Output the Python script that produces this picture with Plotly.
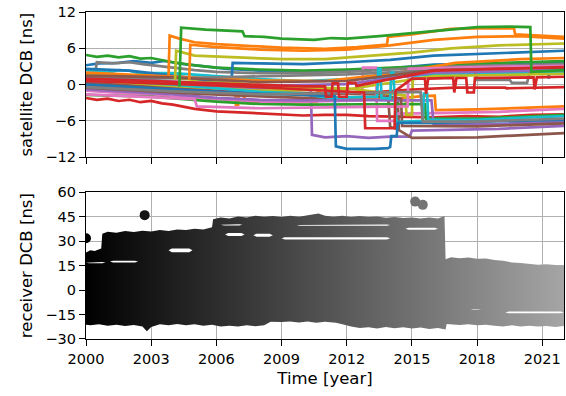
import plotly.graph_objects as go

# ---------------- satellite DCB (top panel) ----------------
# tab10 colours
BLUE, ORANGE, GREEN, RED, PURPLE = "#1f77b4", "#ff7f0e", "#2ca02c", "#d62728", "#9467bd"
BROWN, PINK, GRAY, OLIVE, CYAN = "#8c564b", "#e377c2", "#7f7f7f", "#bcbd22", "#17becf"

green_b_t = [2000, 2000.5, 2001, 2001.5, 2002, 2002.5, 2003, 2003.5, 2004, 2005, 2006, 2008, 2010, 2012, 2014, 2016, 2018, 2020, 2022]
green_b_v = [4.9, 4.6, 4.8, 4.5, 4.7, 4.3, 4.4, 4.0, 3.7, 3.2, 2.8, 2.5, 2.3, 2.5, 2.8, 3.2, 3.5, 3.7, 3.9]

blue_b_t = [2000, 2000.6, 2001.5, 2002.2, 2003, 2003.6, 2004.5, 2005.5, 2006.5, 2008, 2010, 2012, 2014, 2016, 2018, 2020, 2021.25, 2021.3, 2021.35, 2022]
blue_b_v = [3.2, 3.5, 3.6, 3.9, 3.6, 3.9, 3.4, 3.0, 2.6, 2.3, 2.1, 2.3, 2.7, 3.3, 3.5, 3.6, 3.6, 1.0, 3.6, 3.7]

red_a_t = [2000, 2000.5, 2001, 2001.5, 2002, 2002.5, 2003, 2003.5, 2004, 2004.5, 2005, 2006, 2007, 2008, 2009, 2010, 2011, 2012, 2013, 2014, 2016, 2017.5, 2019, 2020.5, 2022]
red_a_v = [-2.2, -2.5, -2.3, -2.7, -2.5, -2.9, -2.7, -3.1, -3.3, -3.7, -4.0, -4.4, -4.6, -4.8, -5.0, -5.1, -5.0, -5.0, -5.2, -5.3, -5.4, -5.2, -5.3, -5.0, -4.9]

purple_a_t = [2000, 2003, 2006, 2008, 2010.35, 2010.4, 2011, 2012, 2013, 2014, 2014.9, 2015.0, 2016, 2019, 2022]
purple_a_v = [0.5, 0.0, -0.5, -0.7, -0.9, -8.3, -8.7, -8.5, -8.8, -8.6, -8.6, -7.6, -7.5, -7.3, -6.8]

brown_a_t = [2000, 2005, 2010, 2013.9, 2014.0, 2014.3, 2014.35, 2014.4, 2015, 2018, 2022]
brown_a_v = [0.2, -0.6, -1.4, -1.6, -7.0, -7.3, -2.5, -7.5, -8.8, -8.7, -8.0]

pink_a_t = [2000, 2004, 2008, 2010, 2012.7, 2012.75, 2013.35, 2013.4, 2014.2, 2014.3, 2016, 2019, 2022]
pink_a_v = [-1.0, -2.0, -2.8, -2.8, -2.6, 2.8, 2.8, -6.0, -6.0, -4.8, -4.7, -4.5, -4.0]

gray_a_t = [2000.45, 2000.5, 2001.2, 2002, 2002.6, 2003.2, 2004, 2005, 2006, 2008, 2010, 2012, 2014, 2016, 2018, 2020, 2022]
gray_a_v = [2.5, 3.7, 3.5, 3.7, 3.4, 3.1, 2.8, 2.4, 2.1, 1.9, 1.9, 2.1, 2.5, 2.9, 3.1, 3.3, 3.4]

olive_b_t = [2000, 2003, 2006, 2008, 2010, 2012, 2014.7, 2014.75, 2015.0, 2015.05, 2018, 2022]
olive_b_v = [1.8, 1.4, 0.5, -0.1, -0.5, -0.6, -1.8, -5.0, -5.0, 2.0, 2.6, 2.9]

cyan_a_t = [2000, 2000.5, 2001, 2001.5, 2002, 2002.5, 2003, 2004, 2006, 2008, 2010, 2012, 2014, 2016, 2018, 2020, 2022]
cyan_a_v = [2.4, 2.2, 2.0, 2.4, 2.3, 1.8, 1.9, 1.9, 1.4, 0.9, 0.6, 0.9, 1.2, 1.7, 1.8, 1.9, 2.1]

blue_a_t = [2000, 2002, 2004, 2005.5, 2006.7, 2006.75, 2008, 2010, 2012, 2014, 2016, 2018, 2020, 2022]
blue_a_v = [2.6, 2.3, 1.5, 0.8, 0.8, 3.6, 3.5, 3.4, 3.7, 4.1, 4.8, 5.1, 5.3, 5.6]

orange_c_t = [2000, 2002, 2004, 2006, 2006.85, 2006.9, 2007.0, 2007.05, 2007.4, 2009, 2010.6, 2010.65, 2010.75, 2010.8, 2012, 2014, 2015.5, 2016.05, 2016.1, 2018, 2022]
orange_c_v = [0.3, 0.3, 0.2, 0.0, -0.1, -3.3, -3.3, -0.2, -3.0, -2.9, -2.9, -0.5, -0.5, -2.6, -2.5, -2.4, -1.9, -1.8, -4.2, -4.1, -3.6]

green_c_t = [2000, 2003, 2006, 2008, 2010, 2012, 2014, 2015.6, 2015.65, 2018, 2022]
green_c_v = [-1.7, -2.0, -2.8, -3.2, -3.3, -3.3, -3.2, -3.2, -5.6, -5.6, -5.0]

red_b_t = [2000, 2004, 2008, 2010, 2012, 2012.8, 2012.85, 2014.2, 2014.25, 2015.0, 2015.6, 2015.65, 2015.75, 2016.9, 2016.95, 2017.05, 2017.5, 2017.55, 2017.85, 2017.9, 2020.6, 2020.65, 2020.75, 2022]
red_b_v = [0.6, 0.1, -0.4, -0.8, -1.1, -1.3, -7.2, -7.2, -1.0, 1.0, 1.0, -1.5, 1.0, 1.1, -1.3, 1.1, 1.1, -1.3, -1.3, 1.1, 1.2, -0.8, 1.2, 1.3]

red_d_t = [2000, 2005, 2010, 2011.0, 2011.05, 2011.3, 2011.35, 2011.6, 2011.65, 2012.0, 2012.05, 2012.4, 2012.45, 2014, 2016, 2019, 2022]
red_d_v = [1.0, 0.3, -0.3, -0.3, -2.0, -2.0, 0.2, 0.2, -2.0, -2.0, 0.3, 0.3, -0.2, 0.9, 2.3, 2.6, 2.9]

purple_b_t = [2000, 2004, 2006, 2008, 2010, 2012, 2014, 2015.9, 2016, 2019, 2022]
purple_b_v = [-0.8, -1.6, -2.2, -2.5, -2.6, -2.5, -2.6, -2.6, -6.6, -6.5, -6.1]

brown_b_t = [2000, 2005, 2010, 2014, 2014.5, 2014.55, 2018, 2022]
brown_b_v = [-0.5, -1.5, -2.2, -2.0, -2.3, -6.8, -6.9, -6.4]

pink_b_t = [2000, 2003, 2005, 2005.1, 2008, 2012, 2014.8, 2014.85, 2018, 2022]
pink_b_v = [-1.6, -2.1, -2.4, -3.6, -3.9, -3.7, -3.6, 2.6, 2.9, 3.1]

gray_b_t = [2000, 2003, 2006, 2009, 2012, 2015, 2017.9, 2018.0, 2019.5, 2019.6, 2020.3, 2020.45, 2022]
gray_b_v = [1.2, 1.0, 1.2, 1.4, 1.7, 2.2, 2.4, 0.8, 0.8, 0.3, 0.3, 2.4, 2.7]

olive_a_t = [2004.1, 2004.15, 2005, 2007, 2009, 2011, 2013, 2015, 2016.8, 2019, 2022]
olive_a_v = [0.8, 5.6, 4.8, 4.5, 4.2, 4.2, 4.7, 5.3, 6.0, 6.5, 6.8]

cyan_b_t = [2000, 2004, 2008, 2010, 2010.8, 2011.3, 2012, 2013.4, 2013.45, 2013.55, 2013.6, 2014.0, 2014.05, 2014.15, 2014.2, 2014.3, 2015.5, 2015.55, 2015.7, 2015.75, 2018, 2022]
cyan_b_v = [1.0, 0.0, -1.2, -1.5, -2.0, -2.2, -2.1, -2.0, 2.6, 2.6, -2.2, -2.3, 2.0, 2.0, -2.0, -6.2, -6.0, -1.5, -1.5, -5.8, -5.8, -5.2]

green_a_t = [2004.3, 2004.38, 2005.5, 2006.4, 2007.2, 2007.3, 2008.2, 2009, 2010.5, 2011.3, 2012, 2013.5, 2015, 2016.8, 2018, 2019.5, 2020.45, 2020.5, 2021, 2022]
green_a_v = [-0.3, 9.4, 9.1, 9.0, 8.8, 8.0, 7.9, 7.6, 7.4, 7.7, 7.6, 8.0, 8.5, 9.2, 9.5, 9.6, 9.5, 2.1, 2.2, 2.4]

orange_a_t = [2003.8, 2003.85, 2004.3, 2005, 2006, 2007.5, 2009, 2011, 2012.5, 2013.85, 2013.9, 2015, 2016.8, 2018, 2019.7, 2019.75, 2021, 2022]
orange_a_v = [1.5, 8.1, 7.6, 7.0, 6.7, 6.4, 6.1, 5.9, 6.2, 6.6, 7.9, 8.3, 9.2, 9.3, 9.3, 8.3, 8.1, 7.9]

orange_b_t = [2004.75, 2004.8, 2006, 2008, 2010, 2012, 2014, 2016, 2018, 2020, 2022]
orange_b_v = [0.8, 6.6, 6.2, 5.8, 5.6, 5.8, 6.5, 7.4, 7.9, 8.0, 7.6]

red_c_t = [2000, 2005, 2009, 2011, 2013, 2015, 2016, 2017, 2019.3, 2019.35, 2022]
red_c_v = [-0.2, -0.9, -1.5, -1.6, -1.3, -0.8, -0.6, -0.5, -0.5, -0.6, -0.4]

blue_c_t = [2000, 2004, 2008, 2010, 2011.45, 2011.5, 2012, 2013.3, 2013.9, 2014.0, 2014.05, 2014.3, 2014.35, 2016, 2019, 2022]
blue_c_v = [0.0, -0.8, -1.5, -1.7, -1.9, -10.2, -10.6, -10.6, -10.5, -10.3, -8.5, -8.5, -6.3, -6.3, -6.1, -5.8]

brown_c_t = [2000, 2004, 2008, 2012, 2016, 2020, 2022]
brown_c_v = [1.5, 1.2, 0.4, 0.6, 2.4, 2.6, 2.8]

purple_c_t = [2000, 2004, 2008, 2012, 2016, 2020, 2022]
purple_c_v = [0.9, 0.5, -0.2, 0.1, 2.0, 2.2, 2.4]

olive_c_t = [2000, 2004, 2008, 2012, 2016, 2020, 2022]
olive_c_v = [0.8, -0.2, -1.0, -0.8, 1.4, 1.6, 1.8]

orange_d_t = [2000, 2004, 2008, 2011, 2014, 2017, 2020, 2022]
orange_d_v = [2.0, 1.4, 0.7, 0.6, 1.8, 3.6, 4.2, 4.4]

gray_c_t = [2000, 2004, 2008, 2010, 2013, 2015.4, 2015.5, 2018, 2022]
gray_c_v = [-0.4, -1.1, -1.6, -1.5, -1.3, -1.2, -6.1, -6.1, -5.6]

satellites = [
    (BLUE, blue_b_t, blue_b_v), (ORANGE, orange_c_t, orange_c_v), (GREEN, green_b_t, green_b_v),
    (RED, red_a_t, red_a_v), (PURPLE, purple_a_t, purple_a_v), (BROWN, brown_a_t, brown_a_v),
    (PINK, pink_a_t, pink_a_v), (GRAY, gray_a_t, gray_a_v), (OLIVE, olive_b_t, olive_b_v),
    (CYAN, cyan_a_t, cyan_a_v), (BLUE, blue_a_t, blue_a_v), (ORANGE, orange_d_t, orange_d_v),
    (GREEN, green_c_t, green_c_v), (RED, red_c_t, red_c_v), (PURPLE, purple_b_t, purple_b_v),
    (BROWN, brown_b_t, brown_b_v), (PINK, pink_b_t, pink_b_v), (GRAY, gray_b_t, gray_b_v),
    (OLIVE, olive_c_t, olive_c_v), (CYAN, cyan_b_t, cyan_b_v), (BLUE, blue_c_t, blue_c_v),
    (BROWN, brown_c_t, brown_c_v), (PURPLE, purple_c_t, purple_c_v), (GRAY, gray_c_t, gray_c_v),
    (RED, red_d_t, red_d_v), (RED, red_b_t, red_b_v), (OLIVE, olive_a_t, olive_a_v),
    (ORANGE, orange_b_t, orange_b_v), (ORANGE, orange_a_t, orange_a_v), (GREEN, green_a_t, green_a_v),
]

# ---------------- receiver DCB (bottom panel) ----------------
# outline of the dense cloud of receiver estimates (year, ns)
cloud_t = [2000.0, 2000.2, 2000.4, 2000.7, 2000.75, 2001.0, 2001.4, 2001.8, 2002.2, 2002.6, 2003.0, 2003.4,
           2003.8, 2004.2, 2004.6, 2005.0, 2005.4, 2005.8, 2005.85, 2006.2, 2006.6, 2007.0, 2007.4, 2007.8,
           2008.2, 2008.6, 2009.0, 2009.4, 2009.8, 2010.2, 2010.7, 2011.0, 2011.4, 2011.8, 2012.2, 2012.6,
           2013.0, 2013.4, 2013.8, 2014.2, 2014.6, 2015.0, 2015.4, 2015.8, 2016.2, 2016.5, 2016.55, 2016.8,
           2017.2, 2017.6, 2018.0, 2018.4, 2018.8, 2019.2, 2019.6, 2020.0, 2020.4, 2020.8, 2021.2, 2021.6,
           2022.0,
           2022.0, 2021.6, 2021.2, 2020.8, 2020.4, 2020.0, 2019.6, 2019.2, 2018.8, 2018.4, 2018.0, 2017.6,
           2017.2, 2016.6, 2016.55, 2016.2, 2015.8, 2015.4, 2015.0, 2014.6, 2014.2, 2013.8, 2013.4, 2013.0,
           2012.6, 2012.2, 2011.8, 2011.5, 2011.0, 2010.6, 2010.2, 2009.8, 2009.4, 2009.0, 2008.5, 2008.2,
           2007.8, 2007.4, 2007.0, 2006.6, 2006.2, 2005.8, 2005.4, 2005.0, 2004.6, 2004.2, 2003.8, 2003.4,
           2003.0, 2002.8, 2002.6, 2002.2, 2001.8, 2001.4, 2001.0, 2000.6, 2000.2, 2000.0]
cloud_v = [23.0, 24.5, 24.0, 25.5, 34.5, 35.8, 35.2, 36.2, 35.6, 36.4, 36.0, 36.8,
           36.3, 37.2, 36.8, 37.6, 37.2, 38.5, 43.5, 44.5, 44.0, 45.2, 44.6, 45.6,
           45.0, 45.4, 44.8, 45.6, 45.0, 45.8, 47.0, 45.6, 45.0, 45.6, 44.8, 45.4,
           44.8, 45.2, 44.4, 44.9, 44.2, 44.6, 44.0, 44.5, 44.0, 45.5, 19.0, 20.2,
           19.6, 20.0, 19.2, 19.4, 18.4, 18.0, 17.0, 16.6, 16.2, 15.6, 15.8, 15.2,
           15.0,
           -22.0, -22.6, -22.0, -22.4, -21.8, -22.3, -21.6, -22.4, -21.8, -21.2, -21.6, -21.0,
           -21.4, -20.8, -24.2, -23.2, -23.8, -23.0, -23.6, -22.8, -23.4, -22.6, -23.6, -22.8,
           -23.2, -22.4, -21.0, -20.0, -19.4, -20.0, -19.2, -19.8, -19.2, -19.6, -19.4, -21.6,
           -22.2, -21.6, -22.4, -21.8, -22.4, -21.2, -21.8, -21.0, -21.6, -20.8, -21.6, -21.0,
           -22.6, -25.2, -22.4, -21.4, -22.0, -21.2, -21.8, -21.0, -21.6, -21.2]

# empty streaks inside the cloud: start, end years and low/high ns
gap_t0 = [2000.0, 2001.1, 2003.8, 2006.2, 2006.4, 2007.7, 2009.0, 2009.7, 2014.7, 2019.3, 2017.7]
gap_t1 = [2000.9, 2002.4, 2004.9, 2007.2, 2007.3, 2008.6, 2014.0, 2014.0, 2016.2, 2022.0, 2018.2]
gap_lo = [16.4, 17.0, 23.2, 39.7, 33.2, 32.8, 31.0, 39.5, 37.0, -14.2, -12.1]
gap_hi = [17.3, 18.0, 25.6, 40.4, 35.0, 34.6, 32.5, 40.3, 38.2, -13.2, -11.6]

# isolated receiver estimates
outlier_t = [2000.0, 2002.7, 2015.15, 2015.5]
outlier_v = [31.8, 46.0, 54.3, 52.3]

GRAY_SCALE = [[0, "black"], [1, "white"]]
C_MIN, C_MAX = 2000, 2034

fig = go.Figure()

for color, t, v in satellites:
    fig.add_trace(go.Scatter(x=t, y=v, mode="lines", line=dict(color=color, width=2.7),
                             xaxis="x2", yaxis="y2", showlegend=False, hoverinfo="skip"))

fig.add_trace(go.Scatter(
    x=cloud_t, y=cloud_v, mode="lines", fill="toself", line=dict(width=0, color="rgba(0,0,0,0)"),
    fillgradient=dict(type="horizontal", colorscale=GRAY_SCALE, start=C_MIN, stop=C_MAX),
    xaxis="x", yaxis="y", showlegend=False, hoverinfo="skip"))

for a, b, lo, hi in zip(gap_t0, gap_t1, gap_lo, gap_hi):
    mid = (lo + hi) / 2
    ea, eb = min(a + 0.15, (a + b) / 2), max(b - 0.15, (a + b) / 2)
    fig.add_trace(go.Scatter(x=[a, ea, eb, b, eb, ea, a], y=[mid, lo, lo, mid, hi, hi, mid],
                             mode="lines", fill="toself", fillcolor="white", line=dict(width=0, color="white"),
                             xaxis="x", yaxis="y", showlegend=False, hoverinfo="skip"))

fig.add_trace(go.Scatter(
    x=outlier_t, y=outlier_v, mode="markers",
    marker=dict(size=10, color=outlier_t, colorscale=GRAY_SCALE, cmin=C_MIN, cmax=C_MAX, line=dict(width=0)),
    xaxis="x", yaxis="y", showlegend=False, hoverinfo="skip"))

FONT = "DejaVu Sans"
xticks = [2000, 2003, 2006, 2009, 2012, 2015, 2018, 2021]
axis_common = dict(showline=True, linecolor="black", linewidth=1.2, mirror=True,
                   ticks="outside", ticklen=6, tickwidth=1.2, tickcolor="black",
                   showgrid=True, gridcolor="#b0b0b0", gridwidth=1, zeroline=False,
                   tickfont=dict(family=FONT, size=14.5, color="black"))

fig.update_layout(
    width=566, height=396,
    margin=dict(l=86, r=2, t=12, b=57),
    paper_bgcolor="white", plot_bgcolor="white",
    font=dict(family=FONT, color="black"),
    xaxis=dict(domain=[0, 1], anchor="y", range=[2000, 2022], tickvals=xticks,
               title=dict(text="Time [year]", font=dict(size=16.5, family=FONT), standoff=6),
               **axis_common),
    yaxis=dict(domain=[0, 0.4486], anchor="x", range=[-30, 60],
               tickvals=[-30, -15, 0, 15, 30, 45, 60],
               title=dict(text="receiver DCB [ns]", font=dict(size=16.5, family=FONT), standoff=8),
               **axis_common),
    xaxis2=dict(domain=[0, 1], anchor="y2", range=[2000, 2022], tickvals=xticks,
                showticklabels=False, **axis_common),
    yaxis2=dict(domain=[0.5557, 1], anchor="x2", range=[-12, 12],
                tickvals=[-12, -6, 0, 6, 12],
                title=dict(text="satellite DCB [ns]", font=dict(size=16.5, family=FONT), standoff=8),
                **axis_common),
)

fig.write_html("out.html")
